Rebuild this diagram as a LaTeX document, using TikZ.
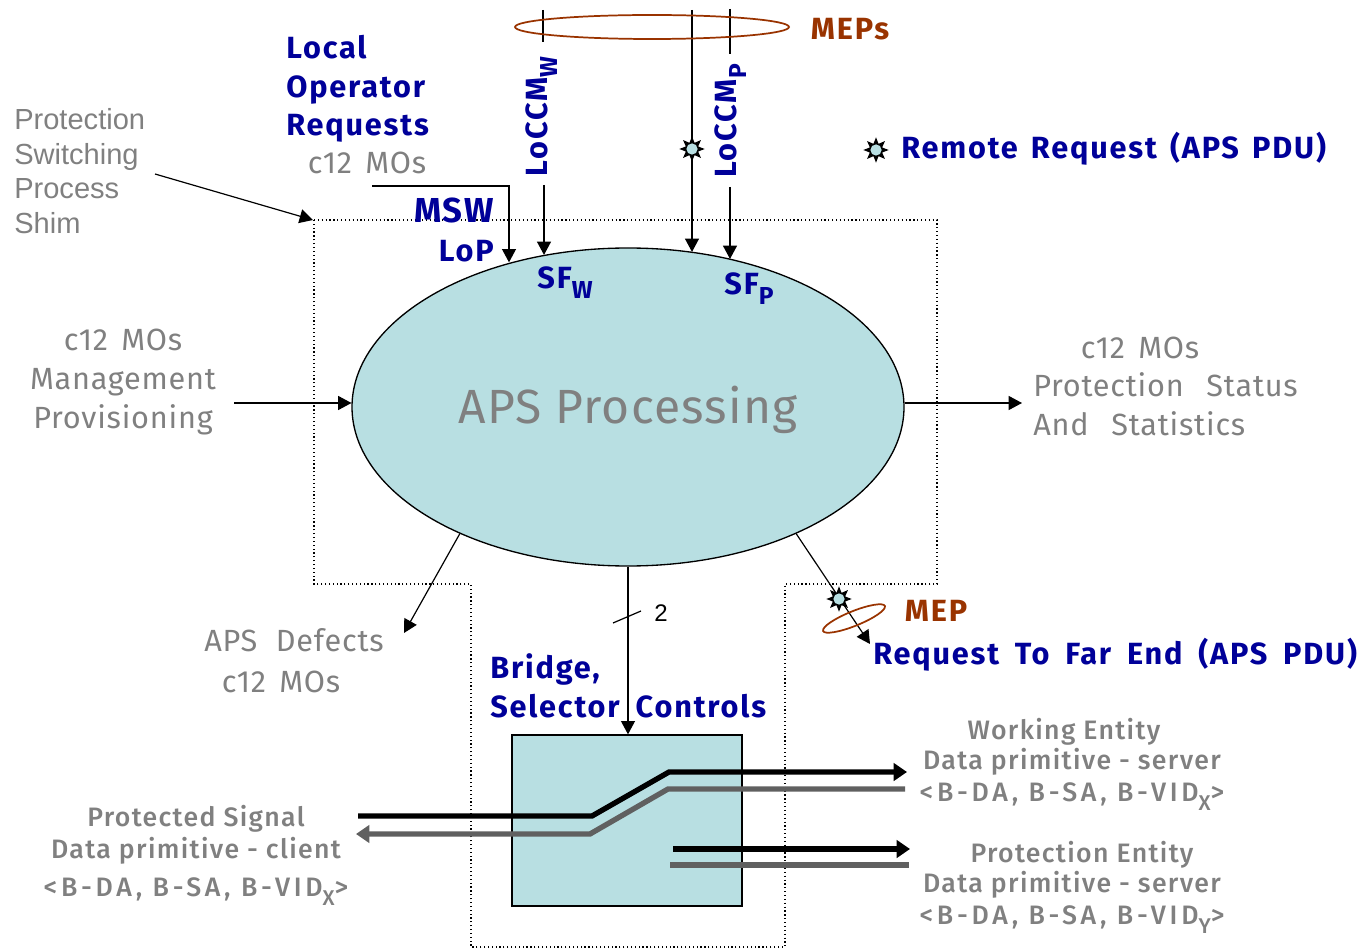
\documentclass[tikz,border=0pt]{standalone}
\usepackage{fontspec}
\setmainfont{Fira Sans}
\newfontfamily\arialfont{Liberation Sans}
\newfontfamily\bluefont[LetterSpace=6]{Fira Sans}
\newfontfamily\grayfont[LetterSpace=2.5]{Fira Sans}
\newfontfamily\lowfont[LetterSpace=5]{Fira Sans Medium}
\newfontfamily\widefont[LetterSpace=14]{Fira Sans Medium}
\usetikzlibrary{arrows.meta, positioning, shapes.geometric}
\definecolor{apsfill}{HTML}{B8DFE2}
\definecolor{reqblue}{HTML}{000099}
\definecolor{mepbrown}{HTML}{993300}
\definecolor{txtgray}{HTML}{808080}
\definecolor{siggray}{HTML}{606060}
\newcommand{\lowtxt}[1]{\raisebox{-.32em}{\scalebox{.8}{#1}}}
\newcommand{\wgap}{\hspace{10pt}}
\newcommand{\sgap}{\hspace{3pt}}
\newcommand{\fgap}{\hspace{5pt}}

\begin{document}
\begin{tikzpicture}[
    x=.75pt, y=-.75pt,
    txt/.style={inner sep=0pt, align=center},
    bluetxt/.style={txt, text=reqblue, font=\bluefont\bfseries\fontsize{23}{29}\selectfont},
    browntxt/.style={txt, text=mepbrown, font=\bluefont\bfseries\fontsize{23}{29}\selectfont},
    graytxt/.style={txt, text=txtgray, font=\grayfont\fontsize{23}{29.3}\selectfont},
    smallgray/.style={txt, text=txtgray, font=\lowfont\fontsize{20}{24.5}\selectfont},
    shimtxt/.style={txt, align=left, text=txtgray, font=\arialfont\fontsize{21.8}{26}\selectfont},
    arr/.style={-{Triangle[length=10pt, width=10.5pt]}, line width=.9pt},
    plain/.style={line width=.9pt},
    sigblack/.style={line width=4pt, black},
    siggrey/.style={line width=4pt, siggray},
    bigtip/.style={-{Triangle[length=10pt, width=13pt]}},
    ring/.style={draw=mepbrown, line width=1.3pt, ellipse, inner sep=0pt},
    spark/.style={star, star points=8, star point ratio=1.9, fill=black, inner sep=0pt, minimum size=19pt,
        path picture={\fill[apsfill] (path picture bounding box.center) circle (4.2pt);}}
]
\useasboundingbox (0,0) rectangle (1371,948);

\draw[dotted, line width=.9pt] (314,220) -- (937,220) -- (937,584) -- (785,584) -- (785,947) -- (471,947) -- (471,584) -- (314,584) -- cycle;

\node[ellipse, draw, fill=apsfill, line width=1pt, minimum width=414pt, minimum height=238.5pt, inner sep=0pt, text=txtgray, font=\grayfont\fontsize{36}{40}\selectfont] (aps) at (628,407) {\raisebox{-12.5pt}[0pt][0pt]{APS Processing}};
\node[draw, fill=apsfill, line width=1pt, minimum width=172.5pt, minimum height=128.25pt, inner sep=0pt] (bridge) at (627,820.5) {};

\node[shimtxt, anchor=west] (shim) at (14,171) {Protection\\Switching\\Process\\Shim};
\node[bluetxt, align=left, anchor=west] (local) at (286,89) {Local\\Operator\\Requests};
\node[graytxt] (localmo) at (367,163) {c12\wgap MOs};
\node[bluetxt, align=right, anchor=east] (lop) at (494,230) {{\fontsize{26}{29}\selectfont MSW}\\LoP};
\node[bluetxt, rotate=90] (ccmw) at (542,116.5) {LoCCM\lowtxt{W}};
\node[bluetxt, rotate=90] (ccmp) at (731,121) {LoCCM\lowtxt{P}};
\node[bluetxt] (sfw) at (565,283) {SF\lowtxt{W}};
\node[bluetxt] (sfp) at (749,289) {SF\lowtxt{P}};
\node[browntxt] (meps) at (850,29) {MEPs};
\node[bluetxt, anchor=west] (remote) at (901,149) {Remote\sgap{} Request\sgap{} (APS\sgap{} PDU)};
\node[graytxt] (mgmt) at (123,382) {c12\wgap MOs\\Management\\Provisioning};
\node[graytxt] (statmo) at (1140,348) {c12\wgap MOs};
\node[graytxt, align=left, anchor=west] (stats) at (1033,404) {Protection\hspace{17pt}Status\\And\hspace{17pt}Statistics};
\node[graytxt] (defects) at (294,640) {APS\hspace{14pt}Defects};
\node[graytxt] (defmo) at (281,682) {c12\wgap MOs};
\node[bluetxt, align=left, anchor=west] (ctrl) at (490,686) {Bridge,\\Selector\hspace{12pt}Controls};
\node[browntxt] (mep) at (936,611) {MEP};
\node[bluetxt, anchor=west] (far) at (873,655) {Request\fgap{} To\fgap{} Far\fgap{} End\fgap{} (APS\fgap{} PDU)};
\node[smallgray] (client) at (196,855) {Protected Signal\\Data primitive - client\\[4pt]{\widefont <B-DA, B-SA, B-VID\lowtxt{X}>}};
\node[smallgray] (working) at (1072,764) {Working Entity\hspace*{12pt}\\[-2pt]Data primitive - server\\{\widefont <B-DA, B-SA, B-VID\lowtxt{X}>}};
\node[smallgray] (protect) at (1072,887) {\hspace*{15pt}Protection Entity\\[-2pt]Data primitive - server\\{\widefont <B-DA, B-SA, B-VID\lowtxt{Y}>}};
\node[inner sep=0pt, font=\arialfont\fontsize{18}{20}\selectfont] (two) at (661,613) {2};

\coordinate (shimend) at (155,174);
\coordinate (shimcorner) at (313,220);
\coordinate (loptop) at (372,186);
\coordinate (lopbend) at (509,186);
\coordinate (wtop) at (543,10);
\coordinate (wtopend) at (543,42);
\coordinate (wlow) at (544,185);
\coordinate (mtop) at (692,10);
\coordinate (ptop) at (730,9);
\coordinate (ptopend) at (730,54);
\coordinate (plow) at (730,187);
\coordinate (mgmtend) at (234,403);
\coordinate (statend) at (1022,403);
\coordinate (defend) at (404,633);
\coordinate (farend) at (870,644);
\coordinate (ticka) at (613,623);
\coordinate (tickb) at (641,611);
\coordinate (blka) at (358,816);
\coordinate (blkb) at (592,816);
\coordinate (blkc) at (669,772);
\coordinate (blkd) at (907,772);
\coordinate (gryd) at (905,789);
\coordinate (gryc) at (668,789);
\coordinate (gryb) at (590,834);
\coordinate (grya) at (356,834);
\coordinate (prta) at (673,849);
\coordinate (prtb) at (910,849);
\coordinate (prtc) at (670,865);
\coordinate (prtd) at (909,865);

\draw[arr] (shimend) -- (shimcorner);
\draw[arr] (loptop) -- (lopbend) -- (aps.129.7 -| lopbend);
\draw[plain] (wtop) -- (wtopend);
\draw[arr] (wlow) -- (aps.119 -| wlow);
\draw[arr] (mtop) -- (aps.67.5 -| mtop);
\draw[plain] (ptop) -- (ptopend);
\draw[arr] (plow) -- (aps.55.4 -| plow);
\draw[arr] (mgmtend) -- (aps.179.17 |- mgmtend);
\draw[arr] (aps.0.83 |- statend) -- (statend);
\draw[arr] (aps.217.5) -- (defend);
\draw[arr] (aps.323.2) -- (farend);
\draw[arr] (aps.south) -- (aps.south |- bridge.north);
\draw[plain] (ticka) -- (tickb);

\draw[sigblack, bigtip] (blka) -- (blkb) -- (blkc) -- (blkd);
\draw[siggrey, bigtip] (gryd) -- (gryc) -- (gryb) -- (grya);
\draw[sigblack, bigtip] (prta) -- (prtb);
\draw[siggrey] (prtc) -- (prtd);

\node[ring, minimum width=205.5pt, minimum height=18pt] (mepring) at (652,27) {};
\node[ring, minimum width=50pt, minimum height=11pt, rotate=22] (farring) at (854,618.5) {};
\node[spark] (sparkm) at (692,149) {};
\node[spark] (sparkr) at (876,150) {};
\node[spark] (sparkf) at (839,599) {};
\end{tikzpicture}
\end{document}
